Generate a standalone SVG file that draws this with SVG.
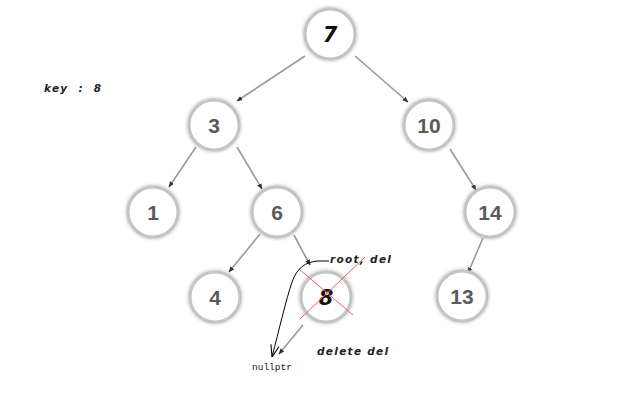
<svg xmlns="http://www.w3.org/2000/svg" width="619" height="400" viewBox="0 0 619 400">
<defs>
<marker id="ah" viewBox="0 0 10 10" refX="9" refY="5" markerWidth="6" markerHeight="6" orient="auto" markerUnits="userSpaceOnUse">
<path d="M0,1 L10,5 L0,9 Z" fill="#333"/>
</marker>
<marker id="open" viewBox="0 0 10 10" refX="10" refY="5" markerWidth="12" markerHeight="12" orient="auto" markerUnits="userSpaceOnUse">
<path d="M0,1.5 L10,5 L0,8.5" fill="none" stroke="#000" stroke-width="0.9"/>
</marker>
<filter id="sh" x="-30%" y="-30%" width="160%" height="160%">
<feGaussianBlur stdDeviation="1"/>
</filter>
</defs>
<style>
.ring{fill:#fff;stroke:#c4c4c4;stroke-width:3}
.halo{fill:none;stroke:#9a9a9a;stroke-width:4;opacity:0.35}
.lbl{font-family:"Liberation Sans",Arial,sans-serif;font-weight:bold;font-size:21px;fill:#5a5a5a;text-anchor:middle}
.lblk{font-family:"DejaVu Sans",sans-serif;font-weight:bold;font-style:italic;font-size:21px;fill:#111;text-anchor:middle}
.edge{stroke:#999;stroke-width:1.6;fill:none;marker-end:url(#ah)}
.note{font-family:"DejaVu Sans",sans-serif;font-weight:bold;font-style:italic;font-size:10.5px;letter-spacing:1.3px;fill:#222;white-space:pre}
.mono{font-family:"Liberation Mono","DejaVu Sans Mono",monospace;font-size:9.5px;fill:#222}
</style>
<rect width="619" height="400" fill="#fff"/>
<g id="connectors">
<line class="edge" x1="305" y1="56" x2="237" y2="101"/>
<line class="edge" x1="355" y1="56" x2="408" y2="102"/>
<line class="edge" x1="196" y1="147" x2="169" y2="187"/>
<line class="edge" x1="237" y1="147" x2="262" y2="189"/>
<line class="edge" x1="450" y1="149" x2="476" y2="190"/>
<line class="edge" x1="260" y1="234" x2="229" y2="272"/>
<line class="edge" x1="294" y1="235" x2="310" y2="265"/>
<line class="edge" x1="483" y1="238" x2="468" y2="273"/>
<line class="edge" x1="303" y1="325" x2="279" y2="354"/>
</g>
<g id="n7"><circle class="halo" cx="330" cy="34" r="26" filter="url(#sh)"/><circle class="ring" cx="330" cy="34" r="25"/><text class="lblk" x="330" y="42">7</text></g>
<g id="n3"><circle class="halo" cx="214" cy="125" r="26" filter="url(#sh)"/><circle class="ring" cx="214" cy="125" r="25"/><text class="lbl" x="214" y="133">3</text></g>
<g id="n10"><circle class="halo" cx="429" cy="125" r="26" filter="url(#sh)"/><circle class="ring" cx="429" cy="125" r="25"/><text class="lbl" x="429" y="133">10</text></g>
<g id="n1"><circle class="halo" cx="153" cy="212" r="26" filter="url(#sh)"/><circle class="ring" cx="153" cy="212" r="25"/><text class="lbl" x="153" y="220">1</text></g>
<g id="n6"><circle class="halo" cx="277" cy="212" r="26" filter="url(#sh)"/><circle class="ring" cx="277" cy="212" r="25"/><text class="lbl" x="277" y="220">6</text></g>
<g id="n14"><circle class="halo" cx="490" cy="212" r="26" filter="url(#sh)"/><circle class="ring" cx="490" cy="212" r="25"/><text class="lbl" x="490" y="220">14</text></g>
<g id="n4"><circle class="halo" cx="215" cy="297" r="26" filter="url(#sh)"/><circle class="ring" cx="215" cy="297" r="25"/><text class="lbl" x="215" y="305">4</text></g>
<g id="n8"><circle class="halo" cx="326" cy="297" r="26" filter="url(#sh)"/><circle class="ring" cx="326" cy="297" r="25"/><text class="lblk" x="326" y="305">8</text></g>
<g id="n13"><circle class="halo" cx="462" cy="296" r="26" filter="url(#sh)"/><circle class="ring" cx="462" cy="296" r="25"/><text class="lbl" x="462" y="304">13</text></g>
<g id="annotations">
<line x1="299" y1="269" x2="353" y2="315" stroke="#f06060" stroke-width="1"/>
<line x1="365" y1="257" x2="300" y2="319" stroke="#f06060" stroke-width="1"/>
<path d="M329,261 L318,261 C305,262 297,268 292,282 C286,300 279,330 272,357" fill="none" stroke="#000" stroke-width="1" marker-end="url(#open)"/>
<text class="note" x="330" y="263">root, del</text>
<text class="note" x="317" y="355">delete del</text>
<text class="mono" x="252" y="370">nullptr</text>
<text class="note" x="44" y="92">key  :  8</text>
</g>
</svg>
